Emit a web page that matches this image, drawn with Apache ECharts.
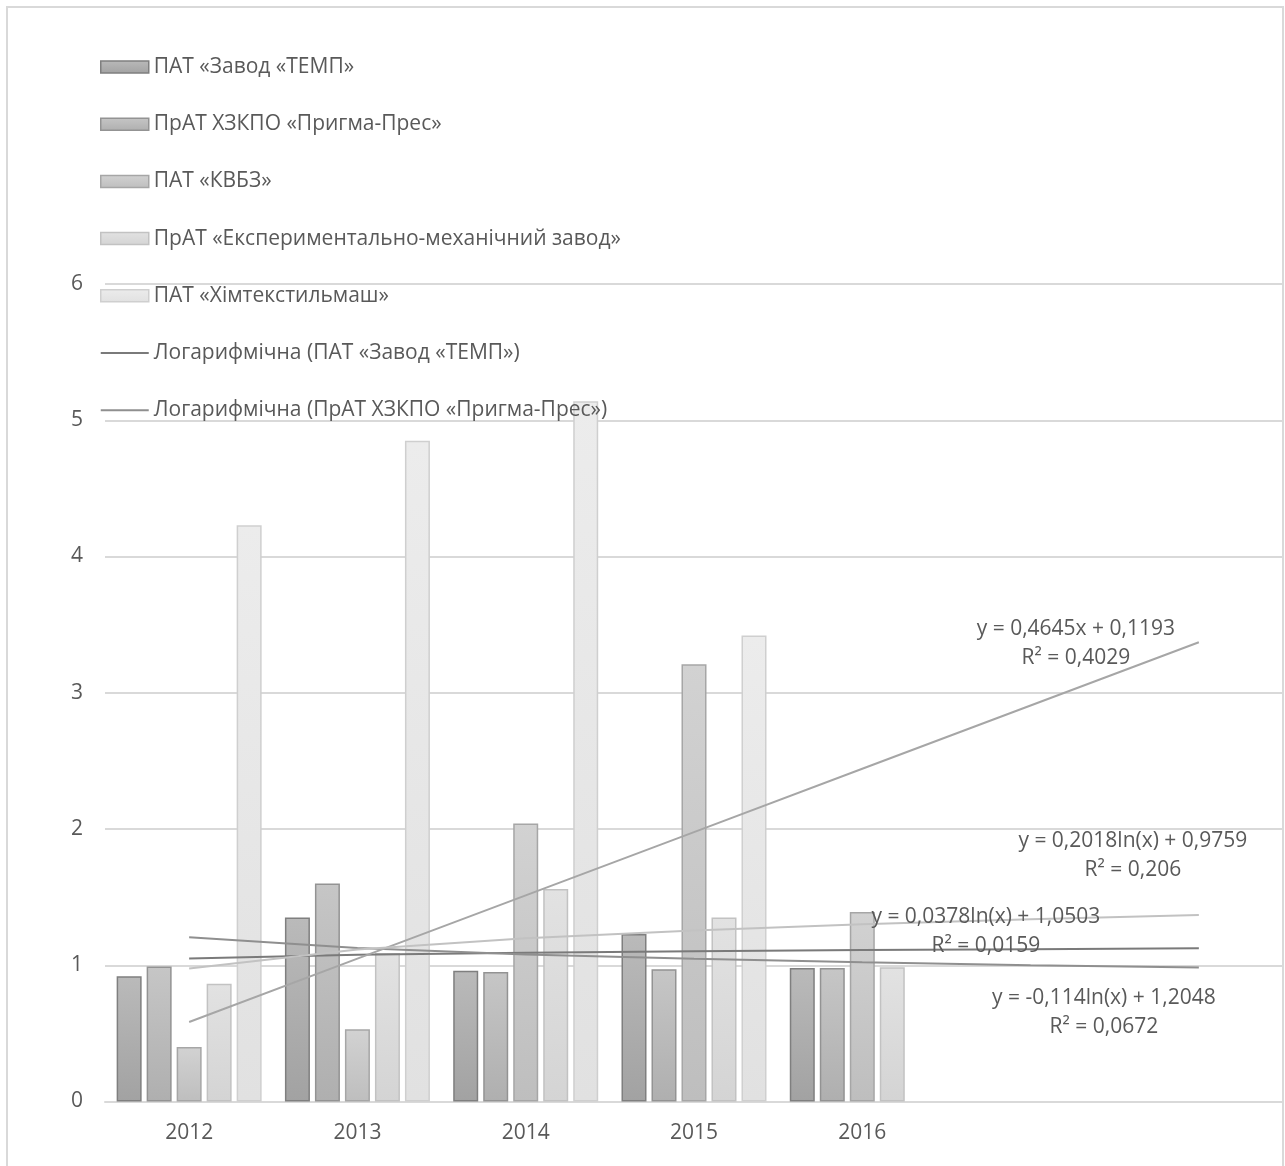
<!DOCTYPE html>
<html>
<head>
<meta charset="utf-8">
<script src="https://cdn.jsdelivr.net/npm/echarts@6/dist/echarts.min.js"></script>
<style>
  html, body { margin: 0; padding: 0; background: #ffffff; }
  #chart { width: 1285px; height: 1166px; }
</style>
</head>
<body>
<div id="chart"></div>
<script>
// Years shown on the category axis; two extra empty slots hold the forward trend forecast
const years = ['2012', '2013', '2014', '2015', '2016', '', ''];

// Indicator values per enterprise
const tempValues      = [0.92, 1.35, 0.96, 1.23, 0.98];
const prygmaValues    = [0.99, 1.60, 0.95, 0.97, 0.98];
const kvbzValues      = [0.40, 0.53, 2.04, 3.21, 1.39];
const emzValues       = [0.865, 1.09, 1.56, 1.35, 0.985];
const khimtexValues   = [4.23, 4.85, 5.14, 3.42, null];

// Series names
const seriesNames = [
  'ПАТ «Завод «ТЕМП»',
  'ПрАТ ХЗКПО «Пригма-Прес»',
  'ПАТ «КВБЗ»',
  'ПрАТ «Експериментально-механічний завод»',
  'ПАТ «Хімтекстильмаш»'
];
const trendNames = [
  'Логарифмічна (ПАТ «Завод «ТЕМП»)',
  'Логарифмічна (ПрАТ ХЗКПО «Пригма-Прес»)',
  'Лінійна (ПАТ «КВБЗ»)',
  'Логарифмічна (ПрАТ «Експериментально-механічний завод»)'
];

// Trend line coefficients as printed in the equations: [slope, intercept]
const kvbzLinear   = [0.4645, 0.1193];   // y = a·x + b
const emzLog       = [0.2018, 0.9759];   // y = a·ln(x) + b
const tempLog      = [0.0378, 1.0503];
const prygmaLog    = [-0.114, 1.2048];

// Equation captions
const kvbzCaption   = 'y = 0,4645x + 0,1193\nR² = 0,4029';
const emzCaption    = 'y = 0,2018ln(x) + 0,9759\nR² = 0,206';
const tempCaption   = 'y = 0,0378ln(x) + 1,0503\nR² = 0,0159';
const prygmaCaption = 'y = -0,114ln(x) + 1,2048\nR² = 0,0672';

// Trend values at each category position (x = 1..7)
function linearTrend(c) { return years.map((_, i) => +(c[0] * (i + 1) + c[1]).toFixed(4)); }
function logTrend(c)    { return years.map((_, i) => +(c[0] * Math.log(i + 1) + c[1]).toFixed(4)); }

const FONT = 'Open Sans';
const TEXT = '#595959';
const FS = 21;

function grad(top, bottom) {
  return new echarts.graphic.LinearGradient(0, 0, 0, 1, [
    { offset: 0, color: top },
    { offset: 1, color: bottom }
  ]);
}

const barStyles = [
  { fill: grad('#bababa', '#a2a2a2'), border: '#7f7f7f' },
  { fill: grad('#c6c6c6', '#afafaf'), border: '#939393' },
  { fill: grad('#d2d2d2', '#bebebe'), border: '#a6a6a6' },
  { fill: grad('#e2e2e2', '#d4d4d4'), border: '#c2c2c2' },
  { fill: grad('#ececec', '#e1e1e1'), border: '#cfcfcf' }
];
const barData = [tempValues, prygmaValues, kvbzValues, emzValues, khimtexValues];

const bars = barData.map((vals, i) => ({
  name: seriesNames[i],
  type: 'bar',
  data: vals,
  barWidth: 25,
  barGap: '20%',
  itemStyle: { color: barStyles[i].fill, borderColor: barStyles[i].border, borderWidth: 1.5 },
  emphasis: { disabled: true },
  z: 2
}));

const trendColors = ['#7a7a7a', '#8f8f8f', '#a6a6a6', '#c2c2c2'];

function trendSeries(name, data, color, caption, offset) {
  return {
    name: name,
    type: 'line',
    data: data,
    symbol: 'none',
    smooth: false,
    lineStyle: { color: color, width: 2 },
    itemStyle: { color: color },
    emphasis: { disabled: true },
    z: 3,
    endLabel: {
      show: true,
      formatter: caption,
      distance: 0,
      offset: offset,
      align: 'center',
      verticalAlign: 'middle',
      color: TEXT,
      fontFamily: FONT,
      fontSize: FS,
      lineHeight: 29
    }
  };
}

const trends = [
  trendSeries(trendNames[0], logTrend(tempLog), trendColors[0], tempCaption, [-213, -17]),
  trendSeries(trendNames[1], logTrend(prygmaLog), trendColors[1], prygmaCaption, [-95, 45]),
  trendSeries(trendNames[2], linearTrend(kvbzLinear), trendColors[2], kvbzCaption, [-123, 1]),
  trendSeries(trendNames[3], logTrend(emzLog), trendColors[3], emzCaption, [-66, -60])
];

// Thin horizontal stroke used as the legend key of a trend line
const LINE_KEY = 'path://M0,0L48,0L48,2L0,2Z';

const chart = echarts.init(document.getElementById('chart'), null, { renderer: 'canvas' });

chart.setOption({
  animation: false,
  backgroundColor: '#ffffff',
  textStyle: { fontFamily: FONT },
  grid: { left: 105, right: 2, top: 284, bottom: 64.5, containLabel: false },
  legend: {
    orient: 'vertical',
    left: 95,
    top: 51,
    itemWidth: 48,
    itemHeight: 12,
    itemGap: 35.2,
    itemTextGap: 5,
    itemStyle: { borderWidth: 1.5 },
    textStyle: { color: TEXT, fontFamily: FONT, fontSize: FS, lineHeight: 22 },
    data: seriesNames.map(n => ({ name: n, icon: 'rect' })).concat([
      { name: trendNames[0], icon: LINE_KEY, itemStyle: { color: trendColors[0], borderWidth: 0 } },
      { name: trendNames[1], icon: LINE_KEY, itemStyle: { color: trendColors[1], borderWidth: 0 } }
    ]),
    selectedMode: false
  },
  xAxis: {
    type: 'category',
    data: years,
    boundaryGap: true,
    axisLine: { show: true, lineStyle: { color: '#d9d9d9', width: 2 } },
    axisTick: { show: false },
    axisLabel: { color: TEXT, fontFamily: FONT, fontSize: FS, margin: 21 },
    splitLine: { show: false }
  },
  yAxis: {
    type: 'value',
    min: 0,
    max: 6,
    interval: 1,
    axisLine: { show: false },
    axisTick: { show: false },
    axisLabel: { color: TEXT, fontFamily: FONT, fontSize: FS, margin: 22 },
    splitLine: { show: true, lineStyle: { color: '#d9d9d9', width: 2 } }
  },
  graphic: [{
    type: 'rect',
    shape: { x: 7, y: 7, width: 1276, height: 1200 },
    style: { fill: 'none', stroke: '#d9d9d9', lineWidth: 2 },
    silent: true,
    z: -1
  }],
  series: bars.concat(trends)
});
</script>
</body>
</html>
